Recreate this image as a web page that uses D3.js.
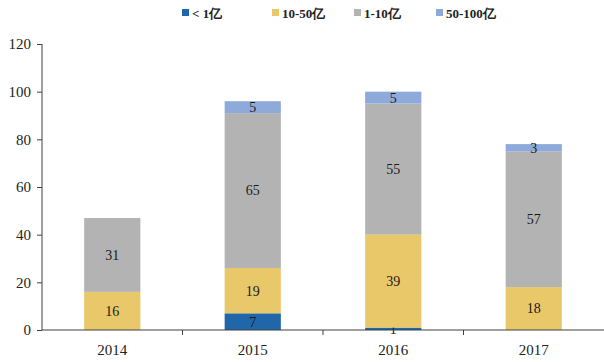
<!DOCTYPE html>
<html>
<head>
<meta charset="utf-8">
<script src="https://cdn.jsdelivr.net/npm/d3@7"></script>
<style>
  body { margin: 0; background: #fff; }
  text { font-family: "Liberation Serif", "Times New Roman", serif; }
</style>
</head>
<body>
<div id="chart"></div>
<script>
// values
const years = ['2014', '2015', '2016', '2017'];
const seriesNames = ['< 1亿', '10-50亿', '1-10亿', '50-100亿'];
const under1 = [0, 7, 1, 0];
const from10to50 = [16, 19, 39, 18];
const from1to10 = [31, 65, 55, 57];
const from50to100 = [0, 5, 5, 3];
const yTicks = [0, 20, 40, 60, 80, 100, 120];
const colors = ['#1f67a8', '#e9c86a', '#b3b3b3', '#8eaadb'];

const W = 604, H = 362;
const margin = { top: 44, right: 0, bottom: 32, left: 42 };
const width = W - margin.left - margin.right;
const height = H - margin.top - margin.bottom;

const rows = years.map((y, i) => ({
  year: y,
  [seriesNames[0]]: under1[i],
  [seriesNames[1]]: from10to50[i],
  [seriesNames[2]]: from1to10[i],
  [seriesNames[3]]: from50to100[i]
}));
const stacked = d3.stack().keys(seriesNames)(rows);

const svg = d3.select('#chart').append('svg')
  .attr('width', W).attr('height', H);
const g = svg.append('g').attr('transform', `translate(${margin.left},${margin.top})`);

const x = d3.scaleBand().domain(years).range([0, width]).paddingInner(0.6).paddingOuter(0.3);
const y = d3.scaleLinear().domain([0, 120]).range([height, 0]);

// bars
const layer = g.selectAll('.layer').data(stacked).enter().append('g')
  .attr('fill', (d, i) => colors[i]);
layer.selectAll('rect').data(d => d.filter(p => p[1] - p[0] > 0)).enter().append('rect')
  .attr('x', d => x(d.data.year))
  .attr('y', d => y(d[1]))
  .attr('width', x.bandwidth())
  .attr('height', d => y(d[0]) - y(d[1]));

// value labels
layer.selectAll('text').data(d => d.filter(p => p[1] - p[0] > 0)).enter().append('text')
  .attr('x', d => x(d.data.year) + x.bandwidth() / 2)
  .attr('y', d => (y(d[0]) + y(d[1])) / 2)
  .attr('dy', '0.35em')
  .attr('text-anchor', 'middle')
  .attr('font-size', 14)
  .attr('fill', '#1a1a1a')
  .text(d => d[1] - d[0]);

// y axis
const yAxis = g.append('g').call(d3.axisLeft(y).tickValues(yTicks).tickSize(5).tickPadding(6));
yAxis.selectAll('text').attr('font-size', 15).attr('fill', '#222');
yAxis.selectAll('line, path').attr('stroke', '#404040');
yAxis.select('.domain').attr('d', `M0,${height}V0`);

// x axis with ticks between categories
const xAxisG = g.append('g').attr('transform', `translate(0,${height})`);
xAxisG.append('line').attr('x1', 0).attr('x2', width).attr('stroke', '#404040').attr('stroke-width', 1.2);
const bounds = d3.range(1, years.length).map(i => x(years[i]) - (x.step() - x.bandwidth()) / 2);
xAxisG.selectAll('.tb').data(bounds).enter().append('line')
  .attr('x1', d => d).attr('x2', d => d).attr('y1', 0).attr('y2', 5)
  .attr('stroke', '#404040');
xAxisG.selectAll('.xl').data(years).enter().append('text')
  .attr('x', d => x(d) + x.bandwidth() / 2)
  .attr('y', 25)
  .attr('text-anchor', 'middle')
  .attr('font-size', 15)
  .attr('fill', '#222')
  .text(d => d);

// legend
const legendX = [182, 272, 354, 436];
const legend = svg.append('g');
seriesNames.forEach((name, i) => {
  legend.append('rect').attr('x', legendX[i]).attr('y', 9).attr('width', 7).attr('height', 7).attr('fill', colors[i]);
  legend.append('text').attr('x', legendX[i] + 10).attr('y', 17.5)
    .attr('font-size', 13).attr('font-weight', 'bold').attr('fill', '#222')
    .text(name);
});
</script>
</body>
</html>
